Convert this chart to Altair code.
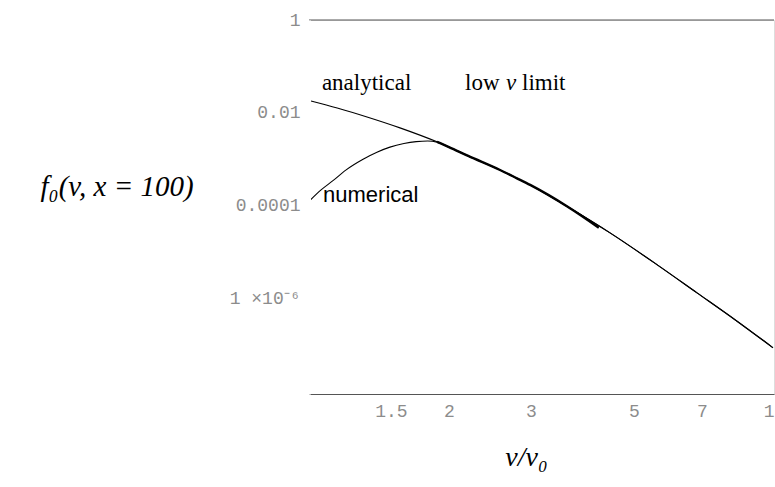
import altair as alt
import pandas as pd

# Analytical solution f0(v, x=100)
v_analytical = [1.01, 1.15, 1.333, 1.569, 1.885, 2.0, 2.2, 2.575, 2.8, 2.99, 3.6, 4.44, 5.6,
                6.83, 8.3, 9.95]
f_analytical = [1.81e-2, 1.28e-2, 8.2e-3, 4.78e-3, 2.39e-3, 1.85e-3, 1.19e-3, 5.94e-4, 3.93e-4,
                2.83e-4, 9.6e-5, 2.63e-5, 5.47e-6, 1.35e-6, 3.4e-7, 8.9e-8]

# Numerical solution
v_numerical = [1.005, 1.06, 1.126, 1.2, 1.307, 1.4, 1.493, 1.6, 1.7, 1.8, 1.885, 2.0, 2.2,
               2.575, 2.8, 2.99, 3.6, 4.44, 5.6, 6.83, 8.3, 9.95]
f_numerical = [1.32e-4, 2.19e-4, 3.5e-4, 5.9e-4, 1.01e-3, 1.43e-3, 1.84e-3, 2.2e-3, 2.42e-3,
               2.5e-3, 2.36e-3, 1.83e-3, 1.19e-3, 5.94e-4, 3.93e-4, 2.83e-4, 9.6e-5, 2.63e-5,
               5.47e-6, 1.35e-6, 3.4e-7, 8.9e-8]

# Low-v limit
v_low = [1.885, 2.0, 2.2, 2.575, 2.8, 2.99, 3.6, 4.2]
f_low = [2.39e-3, 1.85e-3, 1.19e-3, 5.94e-4, 3.93e-4, 2.83e-4, 9.6e-5, 3.4e-5]

# Curve labels (upright serif, italic serif, sans)
serif_text = ["analytical", "low", "limit"]
serif_v = [1.066, 2.166, 2.871]
serif_f = [0.0442, 0.0442, 0.0442]
italic_text = ["v"]
italic_v = [2.652]
italic_f = [0.0442]
sans_text = ["numerical"]
sans_v = [1.072]
sans_f = [1.72e-4]

x_ticks = [1.5, 2, 3, 5, 7, 10]
y_ticks = [1e-6, 1e-4, 1e-2, 1]
y_top = 1  # upper edge of the frame

xscale = alt.Scale(type="log", domain=[1, 10], nice=False)
yscale = alt.Scale(type="log", domain=[9e-9, 1], nice=False)

tick_label_style = dict(labelFont="Liberation Mono", labelFontSize=18, labelColor="#8c8c8c")
frame_color = "#555555"

x_bottom = alt.Axis(
    orient="bottom", values=x_ticks, labelExpr="'' + datum.value", labelOverlap=False,
    labelFlush=False, ticks=False, grid=False, domain=True, domainColor=frame_color,
    domainWidth=1, labelPadding=8, title="v/v₀", titleFont="Liberation Serif",
    titleFontSize=28, titleFontStyle="italic", titleFontWeight="normal",
    titleColor="black", titleX=217, titleY=63, titleAlign="center",
    titleBaseline="middle", **tick_label_style,
)
# The left side of the frame stays open: its edge is painted in the background colour.
y_left = alt.Axis(
    orient="left", values=y_ticks,
    labelExpr="datum.value >= 0.5 ? '1' : datum.value >= 0.005 ? '0.01' : "
              "datum.value >= 5e-5 ? '0.0001' : '1 ×10⁻⁶'",
    labelOverlap=False, ticks=False, grid=False, domain=True, domainColor="white",
    domainWidth=3, zindex=1, labelPadding=9,
    title="f₀(v, x = 100)", titleFont="Liberation Serif", titleFontSize=29,
    titleFontStyle="italic", titleFontWeight="normal", titleColor="black",
    titleAngle=0, titleAlign="left", titleBaseline="middle", titleX=-269, titleY=166,
    **tick_label_style,
)

X = alt.X("v:Q", scale=xscale, axis=x_bottom)
Y = alt.Y("f:Q", scale=yscale, axis=y_left)


def curve(v, f, width):
    df = pd.DataFrame({"v": v, "f": f})
    return alt.Chart(df).mark_line(
        interpolate="monotone", strokeWidth=width, color="black"
    ).encode(x=X, y=Y)


def text_layer(v, f, t, font, size, style="normal"):
    df = pd.DataFrame({"v": v, "f": f, "t": t})
    return alt.Chart(df).mark_text(
        align="left", baseline="middle", font=font, fontSize=size, fontStyle=style,
        color="black"
    ).encode(x=X, y=Y, text="t:N")


# Top edge of the frame
top_frame = alt.Chart(pd.DataFrame({"f": [y_top]})).mark_rule(
    color=frame_color, strokeWidth=1
).encode(y=Y)

analytical = curve(v_analytical, f_analytical, 1.1)
numerical = curve(v_numerical, f_numerical, 1.1)
low_limit = curve(v_low, f_low, 2.4)
serif_labels = text_layer(serif_v, serif_f, serif_text, "Liberation Serif", 23)
italic_labels = text_layer(italic_v, italic_f, italic_text, "Liberation Serif", 23, "italic")
sans_labels = text_layer(sans_v, sans_f, sans_text, "Liberation Sans", 22)

chart = alt.layer(
    top_frame, analytical, numerical, low_limit, serif_labels, italic_labels, sans_labels
).properties(
    width=465, height=374,
    autosize=alt.AutoSizeParams(type="none"),
    padding={"left": 309, "top": 20, "right": 1, "bottom": 93},
).configure_view(
    strokeWidth=0, stroke="transparent", strokeOpacity=0
).configure_axis(
    grid=False
).configure(background="white")

chart.save("out.html", embed_options={"renderer": "svg", "actions": False})
